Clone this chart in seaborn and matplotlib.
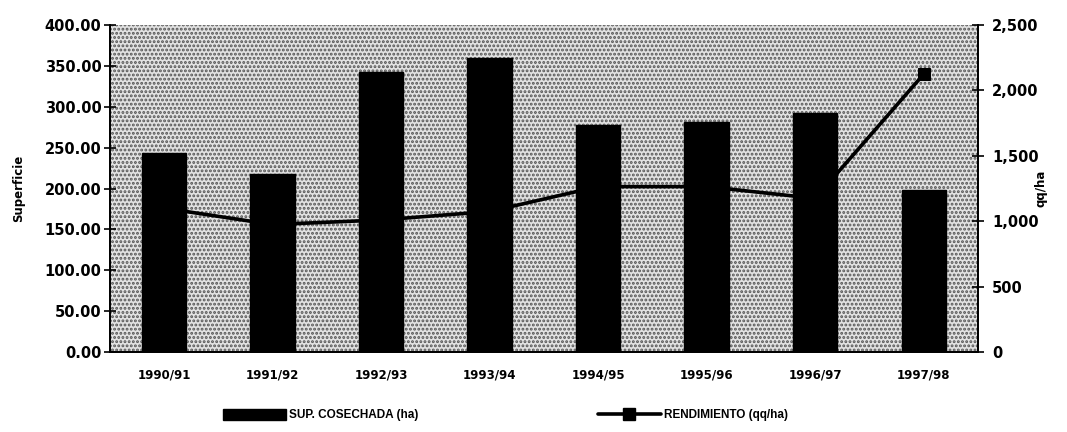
import numpy as np
import pandas as pd
import matplotlib
matplotlib.use("Agg")
import matplotlib.pyplot as plt
from matplotlib.patches import Patch, Rectangle
from matplotlib.lines import Line2D
import seaborn as sns

# ---- data ----
seasons = ["1990/91", "1991/92", "1992/93", "1993/94",
           "1994/95", "1995/96", "1996/97", "1997/98"]
superficie = [243, 218, 342, 360, 278, 281, 292, 198]          # ha
rendimiento = [1100, 975, 1010, 1075, 1265, 1265, 1175, 2125]  # qq/ha
left_ticks = [0, 50, 100, 150, 200, 250, 300, 350, 400]
right_ticks = [0, 500, 1000, 1500, 2000, 2500]

df = pd.DataFrame({"season": seasons, "sup": superficie, "rend": rendimiento})

sns.set_style("white")
plt.rcParams["font.family"] = ["DejaVu Sans"]
plt.rcParams["font.weight"] = "bold"
plt.rcParams["text.color"] = "black"
plt.rcParams["axes.labelcolor"] = "black"
plt.rcParams["xtick.color"] = "black"
plt.rcParams["ytick.color"] = "black"
plt.rcParams["hatch.linewidth"] = 1.4

fig = plt.figure(figsize=(10.67, 4.32), dpi=100)
ax = fig.add_axes([0.103, 0.185, 0.8136, 0.757])
ax2 = ax.twinx()

# background (halftone look) on the lower axes
ax.set_zorder(ax2.get_zorder() + 1)
ax.patch.set_visible(False)
ax2.patch.set_visible(True)
ax2.patch.set_facecolor("#e0e0e0")
bg = Rectangle((0, 0), 1, 1, transform=ax2.transAxes, facecolor="#e2e2e2",
               edgecolor="#555555", hatch="....", linewidth=0, zorder=0)
ax2.add_patch(bg)

# line (behind bars)
sns.lineplot(data=df, x="season", y="rend", ax=ax2, color="black",
             linewidth=2.6, marker="s", markersize=8, markeredgecolor="black",
             sort=False, legend=False)

# bars (on top)
sns.barplot(data=df, x="season", y="sup", ax=ax, color="black",
            width=0.41, saturation=1, edgecolor="black")

ax.set_xlim(-0.5, len(seasons) - 0.5)
ax.set_ylim(0, 400)
ax2.set_ylim(0, 2500)

ax.set_yticks(left_ticks)
ax.set_yticklabels([f"{v:.2f}" for v in left_ticks], fontsize=10.5, fontweight="bold")
ax2.set_yticks(right_ticks)
ax2.set_yticklabels([f"{v:,}" for v in right_ticks], fontsize=10.5, fontweight="bold")

ax.set_xticks(range(len(seasons)))
ax.set_xticklabels(seasons, fontsize=8.5, fontweight="bold")
ax.set_xticks(np.arange(-0.5, len(seasons), 1.0), minor=True)
ax.tick_params(axis="x", which="major", length=0, pad=12)
ax.tick_params(axis="x", which="minor", length=6, width=1.2, direction="out", color="black")
ax.tick_params(axis="y", length=8, width=1.2, direction="inout", color="black", pad=2, left=True)
ax2.tick_params(axis="y", length=8, width=1.2, direction="inout", color="black", pad=6, right=True)

ax.set_xlabel("")
ax.set_ylabel("Superficie", fontsize=8.5, fontweight="bold", labelpad=14)
ax2.set_ylabel("qq/ha", fontsize=8.5, fontweight="bold", rotation=90, labelpad=-3)

for a in (ax, ax2):
    a.spines["top"].set_visible(False)
    for s in ("left", "right", "bottom"):
        a.spines[s].set_color("black")
        a.spines[s].set_linewidth(1.3)
    a.grid(False)

handles = [Patch(facecolor="black", edgecolor="black"),
           Line2D([0], [0], color="black", linewidth=2.6, marker="s", markersize=8)]
fig.legend(handles, ["SUP. COSECHADA (ha)", "RENDIMIENTO (qq/ha)"],
           loc="lower center", bbox_to_anchor=(0.474, 0.0), ncol=2, frameon=False,
           prop={"family": "Liberation Sans", "size": 8.5, "weight": "bold"},
           handlelength=5.3, handleheight=1.0,
           handletextpad=0.3, columnspacing=15.2)

fig.savefig("out.png", dpi=100)
